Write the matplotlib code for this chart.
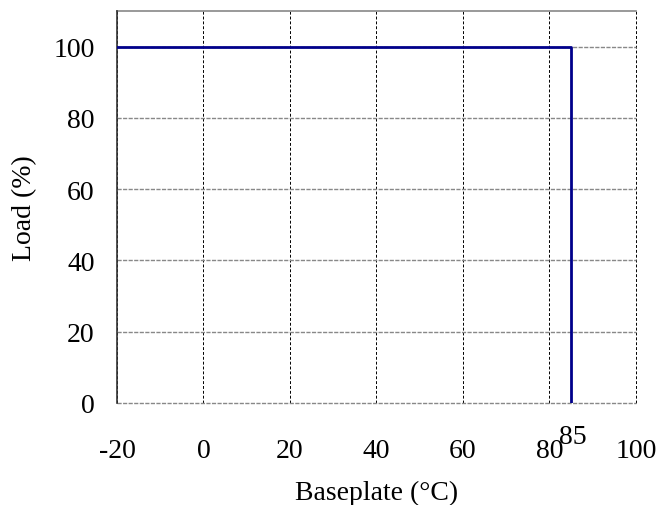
import matplotlib
matplotlib.use("Agg")
import matplotlib.pyplot as plt

# derating curve data
temp = [-20, 85, 85]
load = [100, 100, 0]
x_ticks = [-20, 0, 20, 40, 60, 80, 100]
y_ticks = [0, 20, 40, 60, 80, 100]

plt.rcParams['font.family'] = ['Liberation Serif', 'DejaVu Serif']
plt.rcParams['axes.unicode_minus'] = False

fig = plt.figure(figsize=(6.59, 5.06), dpi=100)
ax = fig.add_axes([0.1775, 0.2016, 0.7875, 0.7745])

ax.set_xlim(-20, 100)
ax.set_ylim(0, 110)
ax.set_xticks(x_ticks)
ax.set_yticks(y_ticks)
ax.tick_params(length=0, labelsize=20)
ax.tick_params(axis='x', pad=25)
ax.tick_params(axis='y', pad=16)

# grid: vertical black dashed, horizontal grey dashed
for xv in x_ticks:
    ax.axvline(xv, color='black', lw=0.7, ls=(0, (3, 2)), zorder=1, clip_on=False)
for yv in y_ticks:
    ax.axhline(yv, color='#888888', lw=1.0, ls=(0, (3, 1)), zorder=1, clip_on=False)

ax.plot(temp, load, color='#00008b', lw=2.0, zorder=3)

for side in ['top', 'right', 'bottom']:
    ax.spines[side].set_visible(False)
ax.spines['left'].set_color('#333333')
ax.spines['left'].set_linewidth(1.2)
ax.axhline(110, color='#888888', lw=1.2, zorder=1, clip_on=False)

# the 85 mark sits raised next to the 80 tick label
ax.text(85.5, -0.053, '85', transform=ax.get_xaxis_transform(),
        ha='center', va='top', fontsize=20)

ax.set_xlabel('Baseplate (°C)', fontsize=20, labelpad=12)
ax.set_ylabel('Load (%)', fontsize=20, labelpad=12)

fig.savefig('out.png', dpi=100)
